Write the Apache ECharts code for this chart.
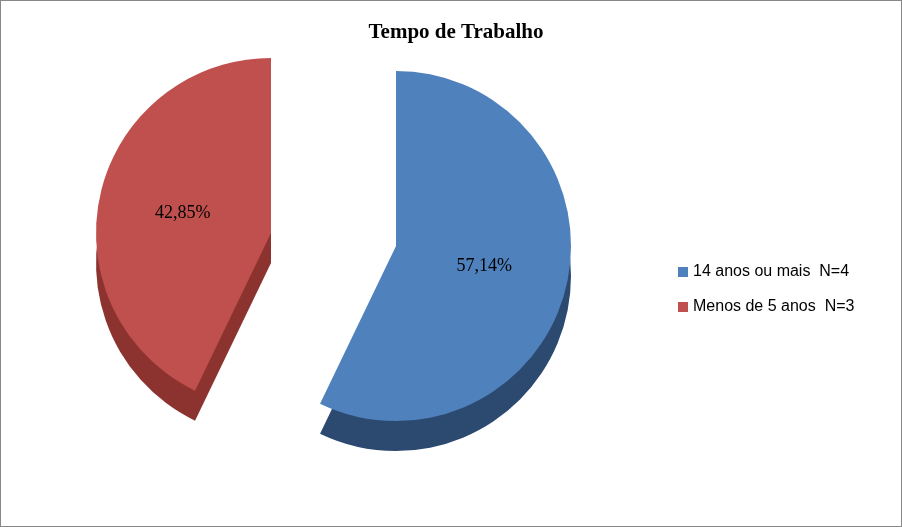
<!DOCTYPE html><html><head><meta charset="utf-8">
<script src="https://cdn.jsdelivr.net/npm/echarts@6/dist/echarts.min.js"></script>
<style>html,body{margin:0;background:#fff}#c{width:900px;height:525px;border:1px solid #888}</style>
</head><body><div id="c"></div><script>
const categories=['14 anos ou mais  N=4','Menos de 5 anos  N=3'];
const values=[57.14,42.85];
const labels=['57,14%','42,85%'];
const colors=['#4F81BD','#C0504D'];
const dark=['#2C4A70','#8C3330'];
const chart=echarts.init(document.getElementById('c'));
function slice(i,center,depth){
  const data=values.map((v,j)=>({name:categories[j],value:v,
    itemStyle:{color:j===i?(depth?dark[j]:colors[j]):'transparent'},
    label:{show:j===i&&!depth,formatter:labels[j]}}));
  return {type:'pie',radius:[0,175],center:center,startAngle:90,clockwise:true,
    silent:true,z:depth?1:2,legendHoverLink:false,
    label:{position:'inner',fontFamily:'Liberation Serif',fontSize:18,color:'#000'},
    labelLine:{show:false},data:data,emphasis:{disabled:true}};
}
chart.setOption({
  animation:false,
  title:{text:'Tempo de Trabalho',left:450,top:16,textAlign:'center',
    textStyle:{fontFamily:'Liberation Serif',fontWeight:'bold',fontSize:21,color:'#000'}},
  legend:{orient:'vertical',left:672,top:258,itemGap:19,itemWidth:10,itemHeight:10,icon:'rect',
    textStyle:{fontFamily:'Liberation Sans',fontSize:16,color:'#000'},
    data:categories.map((n,j)=>({name:n,itemStyle:{color:colors[j]}}))},
  series:[slice(0,['395','275'],true),slice(1,['270','262'],true),
          slice(0,['395','245'],false),slice(1,['270','232'],false)]
});
</script></body></html>
